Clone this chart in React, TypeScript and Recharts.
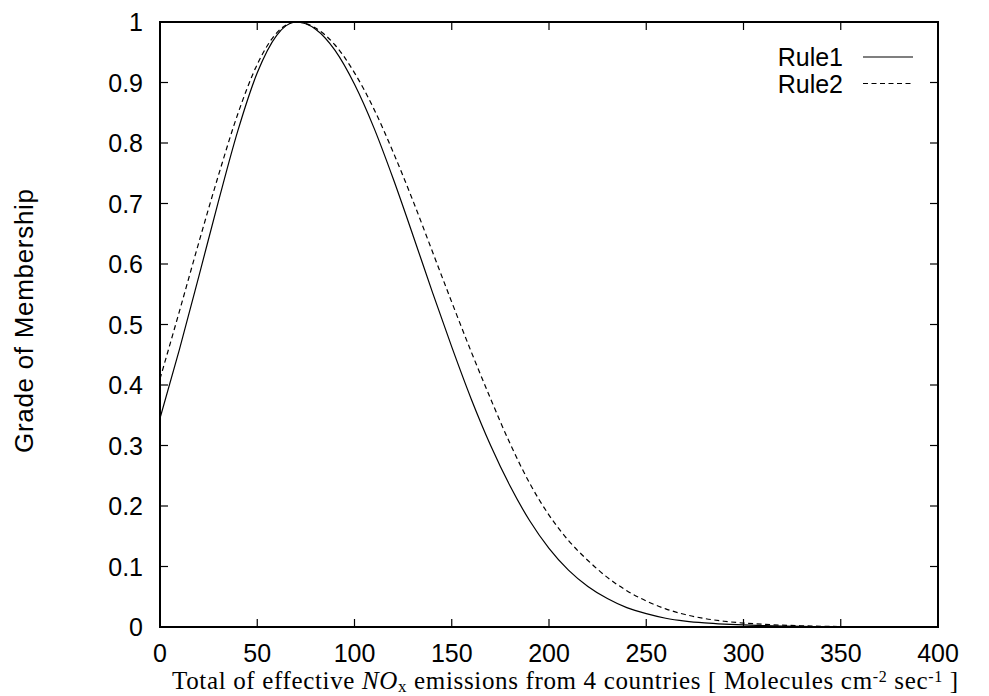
import React from 'react';
import { LineChart, Line, XAxis, YAxis, ReferenceArea, Legend } from 'recharts';

// ---- data ----
const xValues = [
  0, 10, 20, 30, 40, 50, 60, 70, 80, 90,
  100, 110, 120, 130, 140, 150, 160, 170, 180, 190,
  200, 210, 220, 230, 240, 250, 260, 270, 280, 290,
  300, 310, 320, 330, 340, 350, 360, 370, 380, 390, 400,
];
const rule1Values = [
  0.345, 0.459, 0.58, 0.703, 0.82, 0.916, 0.978, 1.0, 0.988, 0.953,
  0.897, 0.825, 0.74, 0.648, 0.554, 0.463, 0.377, 0.3, 0.233, 0.176,
  0.13, 0.094, 0.067, 0.047, 0.032, 0.022, 0.0145, 0.0098, 0.0068, 0.0048,
  0.0034, 0.0023, 0.0015, 0.001, 0.0006, 0.0003, 0.0001, 0, 0, 0, 0,
];
const rule2Values = [
  0.41, 0.522, 0.636, 0.746, 0.848, 0.93, 0.982, 1.0, 0.99, 0.962,
  0.916, 0.856, 0.784, 0.705, 0.621, 0.537, 0.455, 0.377, 0.303, 0.238,
  0.185, 0.143, 0.11, 0.082, 0.06, 0.043, 0.03, 0.0206, 0.014, 0.0095,
  0.0065, 0.0045, 0.003, 0.002, 0.0012, 0.0007, 0.0004, 0.0002, 0.0001, 0, 0,
];
const xTicks = [0, 50, 100, 150, 200, 250, 300, 350, 400];
const yTicks = [0, 0.1, 0.2, 0.3, 0.4, 0.5, 0.6, 0.7, 0.8, 0.9, 1];
const seriesNames = ['Rule1', 'Rule2'];
const yTitle = 'Grade of Membership';

const data = xValues.map((x, i) => ({
  x,
  [seriesNames[0]]: rule1Values[i],
  [seriesNames[1]]: rule2Values[i],
}));

// ---- layout ----
const W = 989;
const H = 696;
const MARGIN = { top: 22, right: 51, left: 0, bottom: 0 };
const Y_AXIS_W = 160;
const X_AXIS_H = 69;
const PLOT_W = W - Y_AXIS_W - MARGIN.right;
const PLOT_H = H - MARGIN.top - X_AXIS_H;
const TICK_LEN = 8;
const SANS = '"Liberation Sans", Arial, Helvetica, sans-serif';
const SERIF = '"Liberation Serif", "Times New Roman", Times, serif';
const DASH = '5 3.5';

const fmt = (v: number) => (v === 0 ? '0' : v === 1 ? '1' : String(Math.round(v * 10) / 10));

const XTick = (props: any) => {
  const { x, y, payload } = props;
  return (
    <g>
      <line x1={x} y1={y} x2={x} y2={y - TICK_LEN} stroke="#000" strokeWidth={1.2} />
      <line x1={x} y1={y - PLOT_H} x2={x} y2={y - PLOT_H + TICK_LEN} stroke="#000" strokeWidth={1.2} />
      <text x={x} y={y + 35} textAnchor="middle" fontFamily={SANS} fontSize={25} fill="#000">
        {payload.value}
      </text>
    </g>
  );
};

const YTick = (props: any) => {
  const { x, y, payload } = props;
  return (
    <g>
      <line x1={x} y1={y} x2={x + TICK_LEN} y2={y} stroke="#000" strokeWidth={1.2} />
      <line x1={x + PLOT_W} y1={y} x2={x + PLOT_W - TICK_LEN} y2={y} stroke="#000" strokeWidth={1.2} />
      <text x={x - 17} y={y + 9} textAnchor="end" fontFamily={SANS} fontSize={25} fill="#000">
        {fmt(payload.value)}
      </text>
    </g>
  );
};

const XTitle = (props: any) => {
  const vb = props.viewBox || { x: Y_AXIS_W, y: MARGIN.top + PLOT_H };
  return (
    <text
      x={vb.x + 12}
      y={vb.y + 62}
      fontFamily={SERIF}
      fontSize={25}
      fill="#000"
      textLength={786}
      lengthAdjust="spacing"
    >
      <tspan>Total of effective </tspan>
      <tspan fontStyle="italic">NO</tspan>
      <tspan fontSize={17} dy={3}>x</tspan>
      <tspan dy={-3}> emissions from 4 countries [ Molecules cm</tspan>
      <tspan fontSize={16} dy={-7}>-2</tspan>
      <tspan dy={7}> sec</tspan>
      <tspan fontSize={16} dy={-7}>-1</tspan>
      <tspan dy={7}> ]</tspan>
    </text>
  );
};

const YTitle = () => {
  const cx = 33;
  const cy = 321;
  return (
    <text
      x={cx}
      y={cy}
      transform={`rotate(-90 ${cx} ${cy})`}
      textAnchor="middle"
      fontFamily={SANS}
      fontSize={26}
      fill="#000"
      textLength={264}
      lengthAdjust="spacing"
    >
      {yTitle}
    </text>
  );
};

const LegendContent = () => {
  const rows = [
    { name: seriesNames[0], dash: undefined as string | undefined, y: 57 },
    { name: seriesNames[1], dash: DASH, y: 83.5 },
  ];
  return (
    <svg width={W} height={110} style={{ display: 'block' }}>
      {rows.map((r) => (
        <g key={r.name}>
          <text x={843} y={r.y + 9} textAnchor="end" fontFamily={SANS} fontSize={25} fill="#000">
            {r.name}
          </text>
          <line x1={863} y1={r.y} x2={913} y2={r.y} stroke="#000" strokeWidth={1.2} strokeDasharray={r.dash} />
        </g>
      ))}
    </svg>
  );
};

export default function App() {
  return (
    <div style={{ position: 'absolute', left: 0, top: 0, width: W, height: H, background: '#fff' }}>
      <LineChart width={W} height={H} data={data} margin={MARGIN}>
        <XAxis
          dataKey="x"
          type="number"
          domain={[0, 400]}
          ticks={xTicks}
          interval={0}
          height={X_AXIS_H}
          axisLine={false}
          tickLine={false}
          tickSize={0}
          tickMargin={0}
          tick={<XTick />}
          label={{ content: <XTitle /> }}
          allowDataOverflow
        />
        <YAxis
          type="number"
          domain={[0, 1]}
          ticks={yTicks}
          interval={0}
          width={Y_AXIS_W}
          axisLine={false}
          tickLine={false}
          tickSize={0}
          tickMargin={0}
          tick={<YTick />}
          label={{ content: <YTitle /> }}
          allowDataOverflow
        />
        <ReferenceArea
          x1={0}
          x2={400}
          y1={0}
          y2={1}
          fill="none"
          fillOpacity={0}
          stroke="#000"
          strokeWidth={2}
          ifOverflow="visible"
        />
        <Line
          type="monotone"
          dataKey={seriesNames[0]}
          stroke="#000"
          strokeWidth={1.2}
          dot={false}
          isAnimationActive={false}
        />
        <Line
          type="monotone"
          dataKey={seriesNames[1]}
          stroke="#000"
          strokeWidth={1.2}
          strokeDasharray={DASH}
          dot={false}
          isAnimationActive={false}
        />
        <Legend
          layout="vertical"
          align="center"
          verticalAlign="middle"
          content={<LegendContent />}
          wrapperStyle={{ position: 'absolute', left: 0, top: 0, width: W, height: 110, pointerEvents: 'none' }}
        />
      </LineChart>
    </div>
  );
}
